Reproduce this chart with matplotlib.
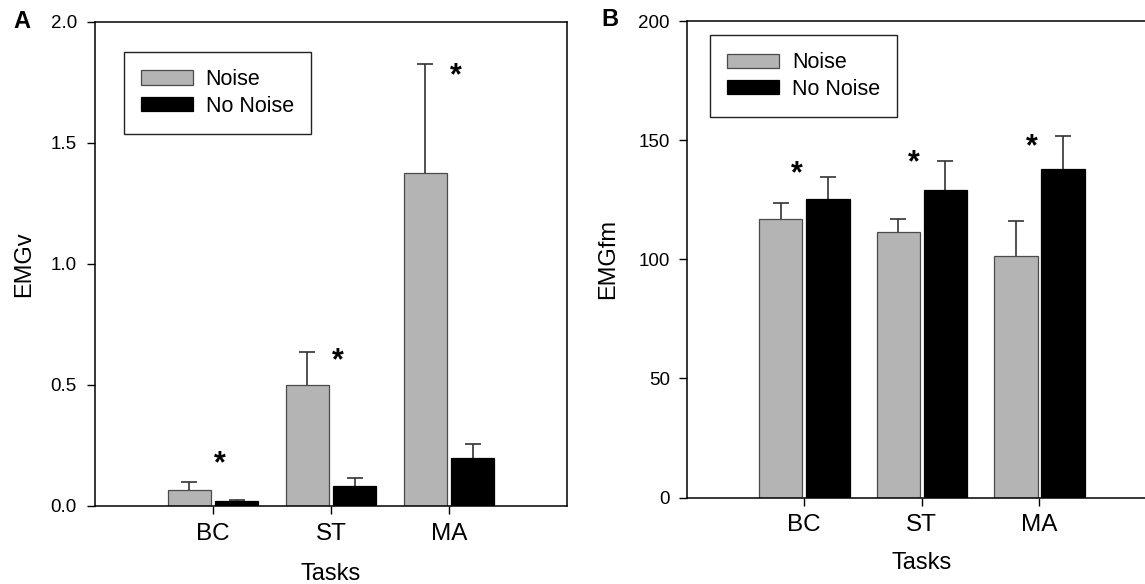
import numpy as np
import matplotlib.pyplot as plt

plt.rcParams['font.family'] = ['Liberation Sans', 'DejaVu Sans']

# data
tasks = ['BC', 'ST', 'MA']
series = ['Noise', 'No Noise']

emgv_noise = [0.068, 0.50, 1.375]
emgv_noise_err = [0.032, 0.135, 0.45]
emgv_quiet = [0.02, 0.082, 0.20]
emgv_quiet_err = [0.005, 0.033, 0.055]
emgv_star = [0.172, 0.597, 1.777]

emgfm_noise = [117.0, 111.3, 101.3]
emgfm_noise_err = [6.6, 5.8, 14.6]
emgfm_quiet = [125.4, 129.0, 137.7]
emgfm_quiet_err = [9.2, 12.3, 14.0]
emgfm_star = [135.5, 140.5, 147.0]

GRAY = '#b4b4b4'
EDGE = '#4a4a4a'
W = 0.37
OFF = 0.2


def draw_panel(ax, noise, noise_err, quiet, quiet_err, stars, star_dx, ylim, yticks, yfmt, ylabel, ypad):
    x = np.arange(len(tasks))
    ax.bar(x - OFF, noise, W, color=GRAY, edgecolor=EDGE, linewidth=0.9, label=series[0], zorder=2)
    ax.bar(x + OFF, quiet, W, color='black', edgecolor='black', linewidth=0.9, label=series[1], zorder=2)
    for xs, vals, errs in [(x - OFF, noise, noise_err), (x + OFF, quiet, quiet_err)]:
        eb = ax.errorbar(xs, vals, yerr=[np.zeros(len(errs)), errs], fmt='none',
                         ecolor='#333333', elinewidth=1.2, capsize=5.5, capthick=1.2, zorder=1)
        # only the upper cap is drawn in the original
        eb[1][0].set_visible(False)
    for xi, s in zip(x, stars):
        ax.text(xi + star_dx, s, '*', ha='center', va='center', fontsize=22, fontweight='bold')

    ax.set_xlim(-1, 3)
    ax.set_ylim(*ylim)
    ax.set_yticks(yticks)
    ax.set_yticklabels([yfmt.format(v) for v in yticks], fontsize=13.5)
    ax.set_xticks(x)
    ax.set_xticklabels(tasks, fontsize=17.5)
    ax.tick_params(axis='y', direction='out', length=6, width=1, pad=ypad)
    ax.tick_params(axis='x', direction='out', length=6, width=1, pad=6)
    for sp in ax.spines.values():
        sp.set_linewidth(1.1)
    ax.set_ylabel(ylabel, fontsize=17)
    ax.set_xlabel('Tasks', fontsize=17)


fig = plt.figure(figsize=(11.45, 5.84), dpi=100)
ax_a = fig.add_axes([0.0830, 0.1336, 0.4122, 0.8288])
ax_b = fig.add_axes([0.5997, 0.1480, 0.4108, 0.8160])

draw_panel(ax_a, emgv_noise, emgv_noise_err, emgv_quiet, emgv_quiet_err, emgv_star, 0.06,
           (0, 2.0), [0.0, 0.5, 1.0, 1.5, 2.0], '{:.1f}', 'EMGv', 7)
draw_panel(ax_b, emgfm_noise, emgfm_noise_err, emgfm_quiet, emgfm_quiet_err, emgfm_star, -0.065,
           (0, 200), [0, 50, 100, 150, 200], '{:.0f}', 'EMGfm', 6)

ax_a.yaxis.set_label_coords(-0.126, 0.5)
ax_b.yaxis.set_label_coords(-0.144, 0.5)
ax_a.xaxis.set_label_coords(0.5, -0.117)
ax_b.xaxis.set_label_coords(0.5, -0.114)

for ax, anchor in [(ax_a, (0.061, 0.938)), (ax_b, (0.0497, 0.9706))]:
    leg = ax.legend(loc='upper left', bbox_to_anchor=anchor, borderaxespad=0, fontsize=15.5,
                    fancybox=False, framealpha=1, edgecolor='#222222', handlelength=2.4,
                    handleheight=0.65, handletextpad=0.6, borderpad=0.8, labelspacing=0.25)
    leg.get_frame().set_linewidth(1.0)

fig.text(22 / 1145, 1 - 21 / 584, 'A', fontsize=17, fontweight='bold', ha='center', va='center')
fig.text(610 / 1145, 1 - 20 / 584, 'B', fontsize=17, fontweight='bold', ha='center', va='center')

fig.savefig('out.png', dpi=100)
